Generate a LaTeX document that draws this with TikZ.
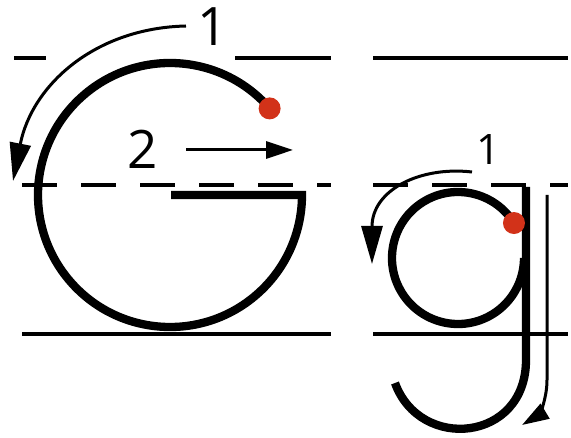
\documentclass[tikz,border=0pt]{standalone}
\usepackage{fontspec}
\setmainfont{Open Sans}
\usetikzlibrary{arrows.meta}
\definecolor{dotred}{RGB}{210,50,25}
\begin{document}
\begin{tikzpicture}[x=1pt,y=-1pt,
    guide/.style={line width=3.5pt},
    guidedash/.style={guide,dash pattern=on 35pt off 24pt},
    letter/.style={line width=8.3pt},
    hint/.style={line width=3pt},
    bigtip/.style={-{Triangle[length=38pt,width=21pt]}},
    smalltip/.style={-{Triangle[length=27pt,width=17pt]}},
    numlabel/.style={font=\fontsize{53}{53}\selectfont,inner sep=0pt},
    startdot/.style={circle,fill=dotred,minimum size=22pt,inner sep=0pt}]
    \useasboundingbox (0,0) rectangle (571,438);
    % Guide lines, big letter
    \draw[guide] (14,58) -- (46,58);
    \draw[guide] (235,58) -- (331,58);
    \draw[guidedash] (22,185) -- (331,185);
    \draw[guide] (22,334) -- (331,334);
    % Guide lines, small letter
    \draw[guide] (373,58) -- (568,58);
    \draw[guidedash] (373,185) -- (568,185);
    \draw[guide] (373,334) -- (568,334);
    % Capital G
    \coordinate (Gstart) at ([shift={(170,195)}]-41:132);
    \draw[letter] (Gstart) arc[start angle=-41,end angle=-360,radius=132] -- (171,195);
    \node[startdot] (Gdot) at (Gstart) {};
    % Stroke hints for G
    \node[numlabel] (Gone) at (213,27) {1};
    \node[numlabel] (Gtwo) at (143,149) {2};
    \coordinate (GaA) at (186,26);
    \coordinate (GaB) at (13,181);
    \draw[hint,bigtip] (GaA) .. controls (95,28) and (32,85) .. (GaB);
    \coordinate (GbA) at (186,150);
    \coordinate (GbB) at (293,150);
    \draw[hint,smalltip] (GbA) -- (GbB);
    % Small g
    \coordinate (gstart) at ([shift={(458,258)}]-32:66);
    \draw[letter] (gstart) arc[start angle=-32,end angle=-360,radius=66];
    \draw[letter] (526,187) -- (526,360) .. controls (526,442) and (420,452) .. (395,383);
    \node[startdot] (gdot) at (gstart) {};
    % Stroke hints for g
    \node[numlabel,font=\fontsize{42}{42}\selectfont] (gone) at (489,150) {1};
    \coordinate (gaA) at (472,172);
    \coordinate (gaB) at (372,264);
    \draw[hint,bigtip] (gaA) .. controls (420,166) and (372,190) .. (gaB);
    \coordinate (gbA) at (547,195);
    \coordinate (gbB) at (522,425);
    \draw[hint,smalltip] (gbA) -- (547,380) .. controls (547,402) and (537,416) .. (gbB);
\end{tikzpicture}
\end{document}
